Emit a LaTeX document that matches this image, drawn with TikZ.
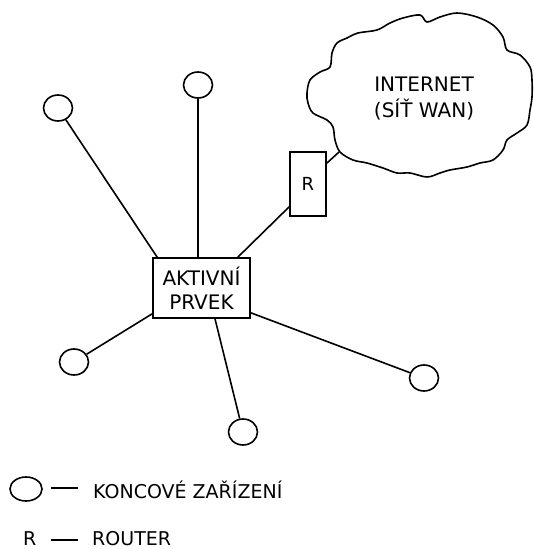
\documentclass[tikz,border=0pt]{standalone}
\usepackage{fontspec}
\setmainfont{DejaVu Sans}
\usetikzlibrary{shapes.geometric}
\begin{document}
\begin{tikzpicture}[x=1pt,y=-1pt,
  dev/.style={draw,ellipse,inner sep=0pt,minimum width=29pt,minimum height=26pt,line width=1.6pt},
  lbox/.style={draw,rectangle,inner sep=0pt,line width=1.6pt,align=center},
  link/.style={draw,line width=1.6pt},
  txt/.style={inner sep=0pt,anchor=base west,font=\fontsize{19}{22}\selectfont}]
\useasboundingbox (0,0) rectangle (534,549);

% WAN cloud
\draw[line width=1.6pt] plot[smooth cycle,tension=0.55] coordinates {
 (307,93) (310,80) (320,72) (330,67) (332,53) (337,43) (347,38) (358,33)
 (377,30) (390,23) (403,18) (420,15) (427,22) (440,17) (457,13) (477,17)
 (493,25) (503,37) (507,50) (520,55) (530,67) (532,80) (532,97) (530,110)
 (527,125) (517,133) (507,140) (503,150) (493,160) (480,163) (467,167)
 (450,170) (440,173) (427,177) (410,173) (397,173) (383,168) (367,163)
 (353,160) (340,152) (335,140) (333,127) (327,120) (313,113) (308,103)};
\coordinate (wan) at (339,152);
\node[align=center,inner sep=0pt,font=\fontsize{20}{26}\selectfont] (wantext) at (424,99)
  {INTERNET\\(SÍŤ WAN)};

% active element and router
\node[lbox,minimum width=97pt,minimum height=60pt,font=\fontsize{20}{24}\selectfont]
  (box) at (201.5,288) {AKTIVNÍ\\PRVEK};
\node[lbox,minimum width=36pt,minimum height=64pt,font=\fontsize{18}{20}\selectfont]
  (r) at (308,184) {R};

% end devices
\node[dev] (d1) at (58,108) {};
\node[dev] (d2) at (198,85) {};
\node[dev] (d3) at (74,362) {};
\node[dev] (d4) at (243,432) {};
\node[dev] (d5) at (424,378) {};

% connections
\draw[link] (d1) -- ([xshift=5pt]box.north west);
\draw[link] (d2) -- (d2 |- box.north);
\draw[link] ([xshift=-13pt]box.north east) -- ([yshift=10pt]r.south west);
\draw[link] ([yshift=-12pt]r.north east) -- (wan);
\draw[link] ([yshift=5pt]box.south west) -- (d3);
\draw[link] ([xshift=13.5pt]box.south) -- (d4);
\draw[link] ([yshift=6pt]box.south east) -- (d5);

% legend
\node[dev,minimum width=32pt,minimum height=24pt] (ld) at (26,489) {};
\coordinate (ldash1) at (51,488);
\coordinate (ldash2) at (78,488);
\draw[link] (ldash1) -- (ldash2);
\node[txt] (lt1) at (93,498) {KONCOVÉ ZAŘÍZENÍ};
\node[txt] (lr) at (23,545) {R};
\coordinate (rdash1) at (51,540);
\coordinate (rdash2) at (78,540);
\draw[link] (rdash1) -- (rdash2);
\node[txt] (lt2) at (92,545) {ROUTER};
\end{tikzpicture}
\end{document}
